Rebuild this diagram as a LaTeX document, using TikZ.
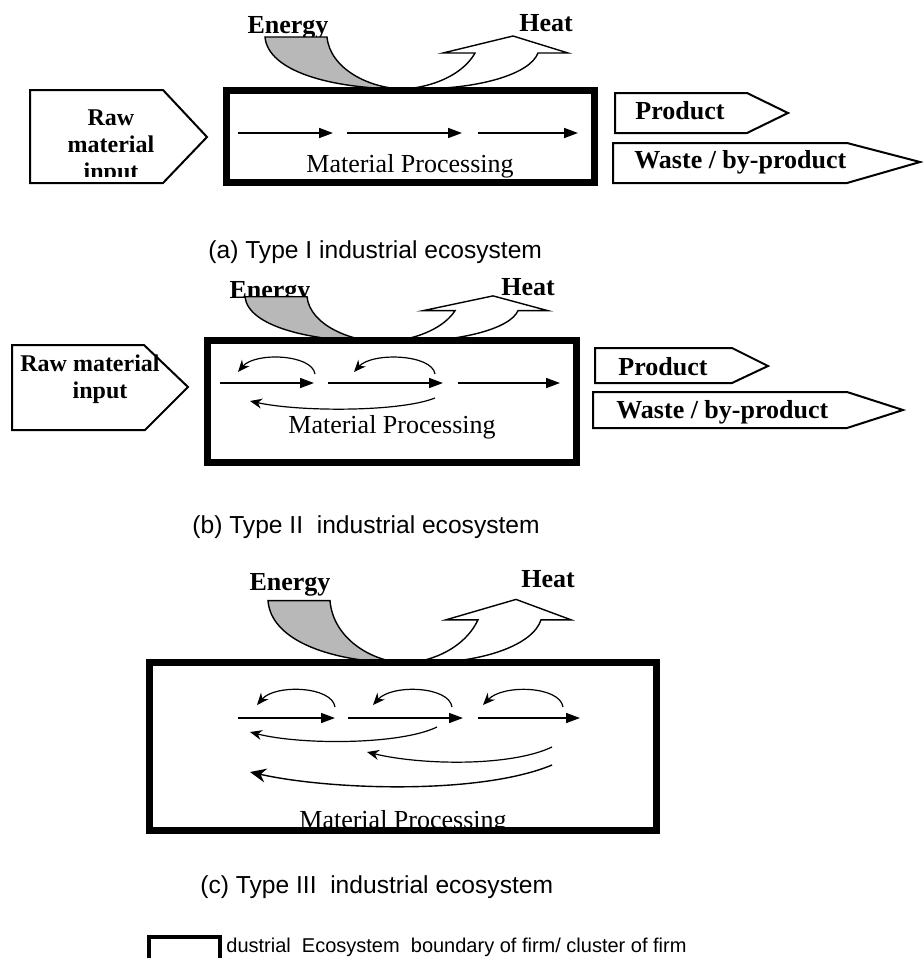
\documentclass[tikz,border=0pt]{standalone}
\usepackage{fontspec}
\setmainfont{Liberation Serif}
\setsansfont{Liberation Sans}
\usetikzlibrary{arrows.meta}

% energy in / heat out, drawn round the point where both touch the box
\newcommand{\energyheat}{%
  \draw[fill=black!28, line width=0.7pt] (-140,-52) -- (-78,-52)
    .. controls (-75,-20) and (-35,0) .. (0,0)
    .. controls (-75,0) and (-137,-18) .. (-140,-52) -- cycle;
  \draw[fill=white, line width=0.7pt] (0,0) .. controls (35,-3) and (60,-18) .. (70,-36)
    -- (38,-36) -- (108,-53) -- (163,-36) -- (133,-36)
    .. controls (125,-15) and (75,0) .. (12,0) -- cycle;
}

\begin{document}
\begin{tikzpicture}[x=0.5pt, y=-0.5pt,
    box/.style={line width=3.5pt},
    tag/.style={line width=1pt, line join=miter},
    flow/.style={line width=0.8pt, -{Triangle[length=7pt,width=5pt]}},
    back/.style={line width=0.6pt, -{Stealth[length=6pt,width=5pt]}},
    lbl/.style={font=\fontsize{13}{15}\selectfont\bfseries, inner sep=0pt},
    rawtxt/.style={font=\fontsize{12}{14}\selectfont\bfseries, inner sep=0pt, anchor=base},
    proc/.style={font=\fontsize{13}{15}\selectfont, inner sep=0pt, anchor=base},
    capt/.style={font=\sffamily\fontsize{12.3}{14}\selectfont, inner sep=0pt, anchor=base west},
    legend/.style={font=\sffamily\fontsize{10}{12}\selectfont, inner sep=0pt, anchor=base west}]
    \useasboundingbox (0,0) rectangle (922,958);

    % (a) Type I
    \node[lbl, anchor=base] (energya) at (288,33) {Energy};
    \node[lbl, anchor=base] (heata) at (546,32) {Heat};
    \begin{scope}[shift={(405,89)}] \energyheat \end{scope}
    \draw[box] (226.5,90.5) rectangle (594.5,182.5);
    \foreach \a/\b in {238/333, 347/462, 478/578}
        \draw[flow] (\a,133) -- (\b,133);
    \node[proc] (procesa) at (410,172) {Material Processing};
    \draw[tag] (30,90) -- (163,90) -- (207,137) -- (163,183) -- (30,183) -- cycle;
    \node[rawtxt] (rawa1) at (111,125) {Raw};
    \node[rawtxt] (rawa2) at (111,152) {material};
    \begin{scope}
        \clip (30,90) rectangle (163,176);
        \node[rawtxt] (rawa3) at (111,179) {input};
    \end{scope}
    \draw[tag] (615,93) -- (747,93) -- (788,113) -- (747,133) -- (615,133) -- cycle;
    \node[lbl, anchor=base west] (producta) at (635,119) {Product};
    \draw[tag] (613,143) -- (847,143) -- (920,162) -- (847,183) -- (613,183) -- cycle;
    \node[lbl, anchor=base west] (wastea) at (634,168) {Waste / by-product};
    \node[capt] (capta) at (208,258) {(a) Type I industrial ecosystem};

    % (b) Type II
    \node[lbl, anchor=base] (energyb) at (270,298) {Energy};
    \node[lbl, anchor=base] (heatb) at (528,295) {Heat};
    \begin{scope}[shift={(385,342)}, yscale=0.87] \energyheat \end{scope}
    \draw[box] (207.5,340.5) rectangle (576.5,462.5);
    \foreach \a/\b in {220/314, 328/443, 458/560}
        \draw[flow] (\a,383) -- (\b,383);
    \draw[back] (315,374) .. controls (312,354) and (255,352) .. (238,372);
    \draw[back] (435,374) .. controls (432,354) and (372,352) .. (354,372);
    \draw[back] (435,398) .. controls (400,412) and (300,412) .. (250,401);
    \node[proc] (procesb) at (392,433) {Material Processing};
    \draw[tag] (12,345) -- (144,345) -- (188,387) -- (145,430) -- (12,430) -- cycle;
    \node[rawtxt] (rawb1) at (90,371) {Raw material};
    \node[rawtxt] (rawb2) at (100,398) {input};
    \draw[tag] (595,348) -- (732,348) -- (768,366) -- (732,383) -- (595,383) -- cycle;
    \node[lbl, anchor=base west] (productb) at (618,375) {Product};
    \draw[tag] (593,392) -- (847,392) -- (903,410) -- (847,428) -- (593,428) -- cycle;
    \node[lbl, anchor=base west] (wasteb) at (616,418) {Waste / by-product};
    \node[capt] (captb) at (192,533) {(b) Type II\ \ industrial ecosystem};

    % (c) Type III
    \node[lbl, anchor=base] (energyc) at (290,590) {Energy};
    \node[lbl, anchor=base] (heatc) at (548,587) {Heat};
    \begin{scope}[shift={(408,663)}, yscale=1.2] \energyheat \end{scope}
    \node[proc] (procesc) at (403,828) {Material Processing};
    \draw[box] (149.5,662.5) rectangle (656.5,830.5);
    \foreach \a/\b in {238/335, 348/463, 478/580}
        \draw[flow] (\a,718) -- (\b,718);
    \draw[back] (335,707) .. controls (332,686) and (275,684) .. (257,705);
    \draw[back] (452,707) .. controls (449,686) and (392,684) .. (373,705);
    \draw[back] (563,707) .. controls (560,686) and (503,684) .. (483,705);
    \draw[back] (437,727) .. controls (400,745) and (300,745) .. (250,732);
    \draw[back] (552,747) .. controls (510,767) and (420,765) .. (367,752);
    \draw[line width=0.7pt, -{Stealth[length=8pt,width=7pt]}] (552,765) .. controls (480,795) and (330,790) .. (250,772);
    \node[capt] (captc) at (200,893) {(c) Type III\ \ industrial ecosystem};

    % legend
    \draw[line width=2pt] (149,937) rectangle (220,975);
    \node[legend] (legendtxt) at (226,952) {dustrial\ \ Ecosystem\ \ boundary of firm/ cluster of firm};
\end{tikzpicture}
\end{document}
